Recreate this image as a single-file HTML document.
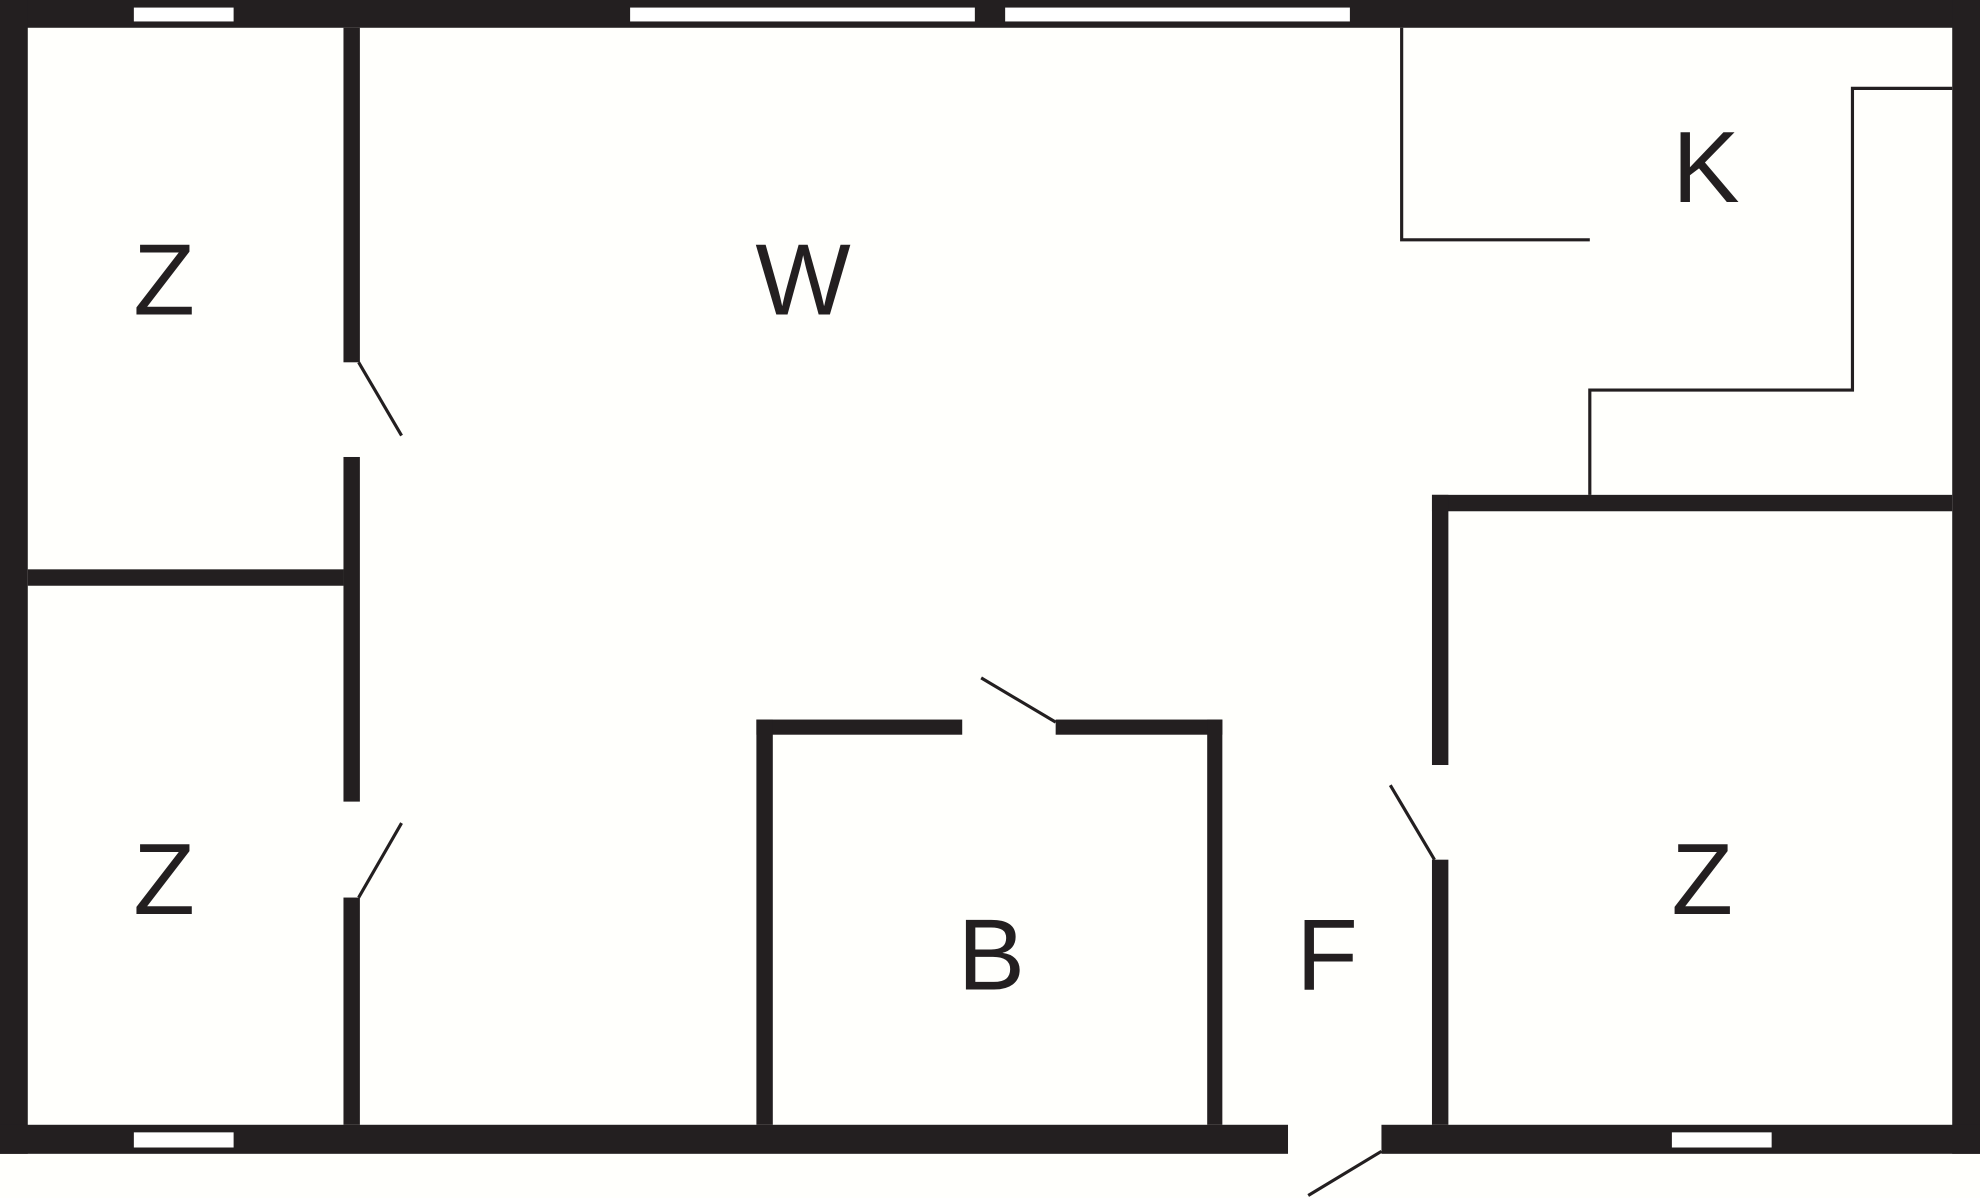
<!DOCTYPE html>
<html><head><meta charset="utf-8"><style>
html,body{margin:0;padding:0;background:#fffffc;}
svg{display:block;}
text{font-family:"Liberation Sans",sans-serif;fill:#231f20;font-size:80px;text-anchor:middle;}
</style></head><body>
<svg width="1980" height="1198" viewBox="0 0 1568 949" preserveAspectRatio="none" xmlns="http://www.w3.org/2000/svg">
<rect x="0" y="0" width="1568" height="949" fill="#fffffc"/>
<g fill="#231f20">
<!-- outer walls -->
<rect x="0" y="0" width="1568" height="22"/>
<rect x="0" y="0" width="22" height="914"/>
<rect x="1546" y="0" width="22" height="914"/>
<rect x="0" y="891" width="1020" height="23"/>
<rect x="1094" y="891" width="474" height="23"/>
<!-- left interior wall -->
<rect x="272" y="22" width="13" height="265"/>
<rect x="272" y="362" width="13" height="273"/>
<rect x="272" y="711" width="13" height="180"/>
<rect x="22" y="451" width="250" height="13"/>
<!-- B room -->
<rect x="599" y="570" width="163" height="12"/>
<rect x="836" y="570" width="132" height="12"/>
<rect x="599" y="570" width="13" height="321"/>
<rect x="956" y="570" width="12" height="321"/>
<!-- right Z room -->
<rect x="1134" y="392" width="412" height="13"/>
<rect x="1134" y="392" width="13" height="214"/>
<rect x="1134" y="681" width="13" height="210"/>
</g>
<!-- windows -->
<g fill="#fff">
<rect x="106" y="6" width="79" height="11"/>
<rect x="499" y="6" width="273" height="11"/>
<rect x="796" y="6" width="273" height="11"/>
<rect x="106" y="897" width="79" height="12"/>
<rect x="1324" y="897" width="79" height="12"/>
</g>
<!-- doors -->
<g stroke="#231f20" stroke-width="2.5" fill="none">
<line x1="284" y1="287" x2="318" y2="345"/>
<line x1="284" y1="711" x2="318" y2="652"/>
<line x1="836" y1="572" x2="777" y2="537"/>
<line x1="1136" y1="681" x2="1101" y2="622"/>
<line x1="1094" y1="912" x2="1036" y2="947"/>
<polyline points="1110,22 1110,190 1259,190"/>
<polyline points="1546,70 1467,70 1467,309 1259,309 1259,392"/>
</g>
<!-- labels -->
<text x="130" y="249">Z</text>
<text x="636" y="249">W</text>
<text x="1351" y="160">K</text>
<text x="130" y="724">Z</text>
<text x="785" y="784">B</text>
<text x="1051" y="784">F</text>
<text x="1348" y="724">Z</text>
</svg>
</body></html>
